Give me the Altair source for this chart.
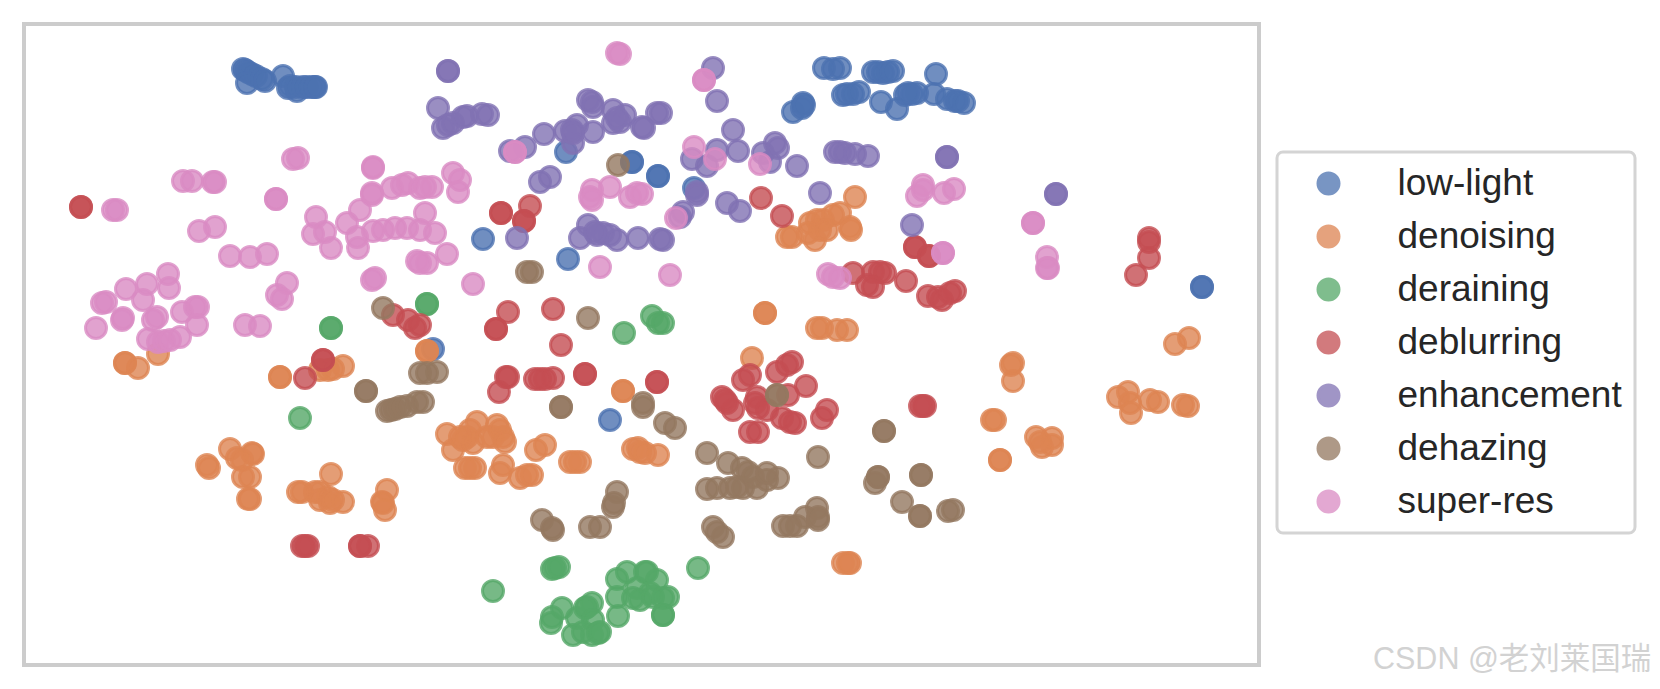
import altair as alt
import pandas as pd

CATEGORIES = ["low-light", "denoising", "deraining", "deblurring", "enhancement", "dehazing", "super-res"]
COLORS = ["#4C72B0", "#DD8452", "#55A868", "#C44E52", "#8172B3", "#937860", "#DA8BC3"]
WATERMARK = "CSDN @老刘莱国瑞"

low_light = [(243,69),(245,70),(248,72),(252,74),(256,76),(247,83),(262,79),(265,81),(283,76),(288,88),(290,86),(297,91),(296,87),(303,87),(307,87),(312,87),(315,87),(316,87),
 (566,152),(632,162),(632,162),(658,176),(658,176),(694,188),(483,239),(568,259),(824,68),(833,69),(840,68),(843,95),(803,103),(793,112),(802,108),(804,105),
 (873,72),(878,72),(883,73),(888,72),(893,71),(936,74),(847,94),(853,94),(859,92),(881,102),(897,109),(905,95),(912,94),(917,93),(908,93),(934,94),(947,99),(955,101),(958,101),(964,103),
 (1202,287),(1202,287),(433,349),(610,420)]
denoising = [(787,237),(792,237),(810,223),(817,220),(823,220),(833,215),(815,240),(820,230),(808,233),(827,230),(765,313),(765,313),(817,328),(822,328),(837,330),
 (855,197),(840,213),(850,227),(851,230),(847,330),(1175,344),(1189,338),(1011,365),(1013,363),(1013,381),(992,420),(995,420),(1000,460),(1000,460),
 (1036,437),(1052,438),(1042,447),(1052,445),(1040,442),(1118,397),(1128,392),(1130,403),(1131,413),(1150,400),(1158,402),(1183,405),(1188,406),(843,563),(850,563),(848,563),
 (125,363),(125,363),(138,368),(158,354),(280,377),(280,377),(343,366),(328,370),(320,370),(333,369),(230,449),(253,454),(252,453),(237,458),(242,460),(243,477),(250,477),(250,499),(248,499),(207,465),(209,468),
 (331,474),(298,492),(302,492),(315,492),(320,492),(328,497),(320,500),(330,503),(343,502),(333,500),(387,490),(382,502),(385,510),(383,503),
 (752,358),(427,351),(427,351),(447,434),(477,422),(453,450),(467,437),(470,430),(463,440),(473,443),(460,437),(497,425),(503,437),(493,437),(487,437),(500,430),(505,442),
 (465,468),(475,468),(470,468),(503,465),(500,473),(536,450),(545,445),(520,478),(527,475),(532,475),(570,462),(580,462),(575,462),(623,391),(623,391),(633,449),(638,448),(645,453),(658,455),(640,452)]
deraining = [(331,328),(331,328),(427,304),(427,304),(624,333),(652,316),(658,323),(663,323),(300,418),(493,591),(555,568),(552,569),(559,567),(698,568),
 (627,572),(617,579),(645,572),(647,572),(657,580),(617,597),(637,588),(650,593),(640,600),(633,598),(653,597),(668,597),(663,598),(663,615),(663,615),(618,616),(562,608),(552,617),(551,623),(577,618),(592,603),(587,607),(585,608),(593,620),(573,635),(583,632),(592,635),(598,633),(600,632)]
deblurring = [(81,207),(81,207),(393,315),(408,320),(415,328),(420,325),(501,213),(501,213),(530,206),(524,221),(524,221),(508,312),(553,309),(496,329),(496,329),(561,345),
 (761,198),(782,216),(915,247),(915,247),(929,256),(929,256),(853,273),(873,272),(880,272),(885,273),(867,285),(873,287),(906,281),(928,296),(938,297),(942,300),(955,291),(950,293),
 (1149,238),(1149,242),(1149,258),(1136,275),(305,378),(323,360),(323,360),(302,546),(308,546),(305,546),(360,546),(368,546),(360,546),
 (506,377),(508,377),(499,392),(535,379),(545,379),(553,378),(540,379),(585,374),(585,374),(657,382),(657,382),
 (792,362),(787,365),(777,372),(806,386),(750,375),(743,380),(722,397),(727,403),(733,410),(757,397),(755,403),(758,408),(767,410),(790,422),(782,418),(795,423),(827,410),(822,418),(750,432),(758,432),(725,400),(788,395),
 (920,406),(925,406),(923,406)]
enhancement = [(448,71),(448,71),(438,108),(443,128),(448,125),(453,123),(467,116),(463,117),(482,114),(488,115),(510,151),(525,147),(544,134),(565,131),(573,143),(577,125),(572,130),(573,133),
 (588,100),(592,102),(593,107),(593,132),(613,110),(625,115),(613,123),(620,122),(617,118),(644,128),(642,127),(657,113),(661,113),(713,68),(717,101),(540,182),(550,177),(517,238),
 (588,225),(580,238),(597,235),(603,233),(610,235),(617,240),(595,232),(638,238),(660,239),(663,240),(683,212),(680,217),(697,192),(697,195),(727,203),(740,211),(820,193),
 (692,159),(717,150),(707,166),(738,151),(733,130),(763,153),(770,162),(775,143),(778,148),(797,166),(835,152),(840,152),(845,153),(855,154),(868,156),(947,157),(947,157),(912,225),(1056,194),(1056,194)]
dehazing = [(383,308),(618,165),(527,272),(532,272),(588,318),(366,391),(366,391),(437,372),(427,373),(420,373),(387,411),(391,410),(395,409),(400,407),(407,406),(417,402),(423,402),
 (561,407),(561,407),(643,407),(643,403),(665,423),(675,428),(777,395),(777,395),(707,453),(728,463),(742,468),(748,472),(707,489),(717,488),(730,488),(743,488),(757,488),(767,480),(778,478),(753,477),(737,487),(767,473),(818,457),
 (617,492),(613,507),(614,503),(542,520),(553,530),(552,528),(590,527),(600,527),(713,527),(723,537),(717,532),(783,526),(797,526),(790,526),(805,517),(817,508),(818,520),(818,517),
 (884,431),(884,431),(878,477),(875,483),(878,477),(921,475),(921,475),(902,502),(920,516),(920,516),(948,511),(953,510)]
super_res = [(113,210),(117,210),(183,181),(192,181),(213,182),(215,182),(293,159),(298,158),(276,199),(276,199),(199,231),(215,227),(230,256),(250,257),(267,254),(316,217),(313,234),(325,232),(331,248),(347,223),(358,248),(357,237),(360,210),(372,195),(373,168),(373,167),(372,193),(392,188),(402,185),(408,183),
 (373,231),(383,230),(395,228),(407,228),(420,230),(417,261),(375,278),(372,280),(287,283),(277,295),(282,299),(245,325),(260,326),(168,274),(169,288),(147,284),(126,289),(106,302),(102,303),(123,318),(122,320),(96,328),(143,300),(157,317),(153,320),(182,312),(195,307),(198,307),(197,325),
 (148,339),(158,342),(164,341),(170,340),(180,337),(425,213),(435,233),(427,263),(420,263),(447,254),(473,284),(432,187),(420,188),(425,187),(453,173),(460,180),(458,192),(515,152),(515,152),(617,53),(620,54),(704,80),(704,80),(694,147),(715,159),(760,164),
 (590,197),(592,190),(592,200),(610,187),(630,197),(637,193),(642,194),(600,267),(670,275),(676,218),(828,274),(833,277),(840,278),(923,185),(917,196),(923,190),(944,193),(954,189),(943,253),(943,253),(1033,223),(1033,223),(1047,257),(1048,268),(1047,268)]

SERIES = [low_light, denoising, deraining, deblurring, enhancement, dehazing, super_res]
rows = [{"x": x, "y": y, "task": name} for name, pts in zip(CATEGORIES, SERIES) for x, y in pts]
df = pd.DataFrame(rows)

scale = alt.Scale(domain=CATEGORIES, range=COLORS)
legend = alt.Legend(
    orient="none", legendX=1253, legendY=128, title=None,
    strokeColor="#d4d4d4", fillColor="white", cornerRadius=6, padding=13,
    labelFont="Liberation Sans", labelFontSize=37, labelColor="#262626", labelLimit=400,
    symbolType="circle", symbolSize=441, symbolStrokeWidth=3, symbolOpacity=0.75, symbolOffset=20,
    labelOffset=50.5, rowPadding=15,
)
points = alt.Chart(df).mark_circle(size=441, fillOpacity=0.8, strokeOpacity=0.8, strokeWidth=3).encode(
    x=alt.X("x:Q", axis=None, scale=alt.Scale(domain=[24, 1259], nice=False, zero=False)),
    y=alt.Y("y:Q", axis=None, scale=alt.Scale(domain=[24, 665], nice=False, zero=False, reverse=True)),
    color=alt.Color("task:N", scale=scale, sort=CATEGORIES, legend=legend),
    stroke=alt.Stroke("task:N", scale=scale, sort=CATEGORIES, legend=legend),
)
mark = alt.Chart(pd.DataFrame({"t": [WATERMARK]})).mark_text(
    align="left", baseline="middle", font="Liberation Sans, Noto Sans CJK SC", fontSize=30.5, color="#d2d2d2"
).encode(text="t:N", x=alt.value(1349), y=alt.value(636))

chart = alt.layer(points, mark).properties(
    width=1235, height=641,
    autosize=alt.AutoSizeParams(type="none"),
    padding={"left": 16, "top": 16, "right": 393, "bottom": 10},
).configure_view(stroke="#cccccc", strokeWidth=4).configure_legend(strokeWidth=3)
chart.save("out.html", embed_options={"renderer": "svg", "actions": False})
